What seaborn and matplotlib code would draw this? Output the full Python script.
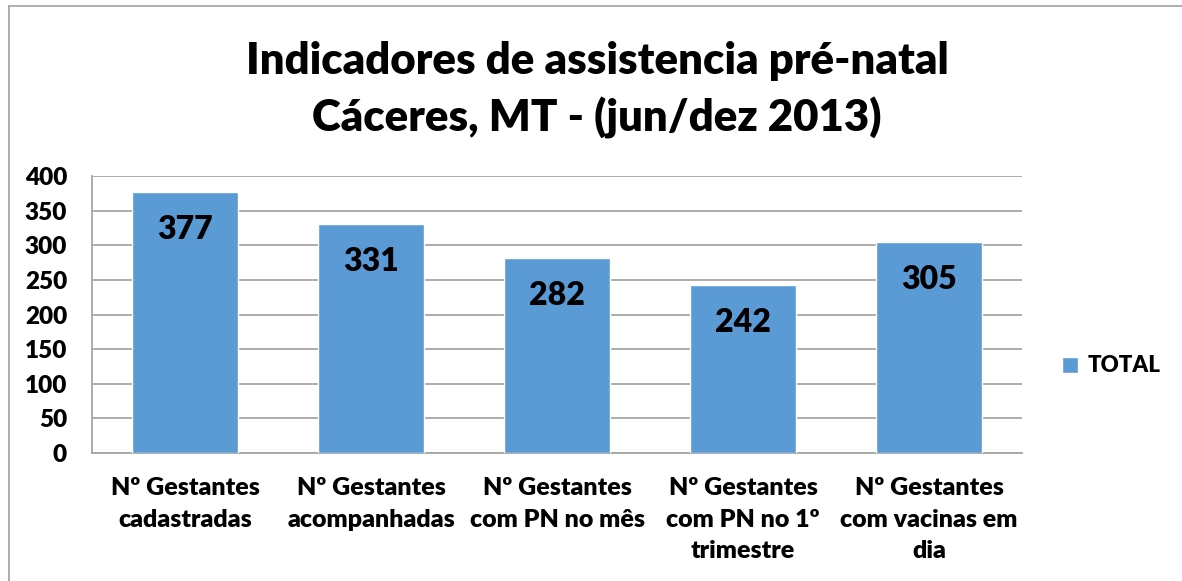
import matplotlib
matplotlib.use("Agg")
import matplotlib.pyplot as plt
import seaborn as sns
import pandas as pd
from matplotlib.lines import Line2D

categories = ["Nº Gestantes\ncadastradas", "Nº Gestantes\nacompanhadas", "Nº Gestantes\ncom PN no mês",
              "Nº Gestantes\ncom PN no 1º\ntrimestre", "Nº Gestantes\ncom vacinas em\ndia"]
values = [377, 331, 282, 242, 305]
series_name = "TOTAL"
title = "Indicadores de assistencia pré-natal\nCáceres, MT - (jun/dez 2013)"

sns.set_theme(style="white")
plt.rcParams['font.family'] = ['Lato', 'DejaVu Sans']
plt.rcParams['font.weight'] = 'heavy'
plt.rcParams['text.color'] = 'black'

df = pd.DataFrame({"cat": categories, "val": values})

fig = plt.figure(figsize=(11.82, 5.81), dpi=100)
ax = fig.add_axes([92/1182, 1-453/581, (1022-92)/1182, (453-176)/581])

sns.barplot(data=df, x="cat", y="val", color="#5B9BD5", saturation=1, width=0.57,
            label=series_name, ax=ax, zorder=3)

ax.set_ylim(0, 400)
ax.set_yticks(range(0, 401, 50))
ax.yaxis.grid(True, color="#A6A6A6", linewidth=1.3, zorder=0)
ax.set_axisbelow(True)
ax.set_xlabel("")
ax.set_ylabel("")
for s in ["top", "right"]:
    ax.spines[s].set_visible(False)
for s in ["left", "bottom"]:
    ax.spines[s].set_color("#A6A6A6")
    ax.spines[s].set_linewidth(1.3)
ax.tick_params(axis="y", length=0, pad=18, labelsize=17.5)
ax.tick_params(axis="x", length=0, pad=17, labelsize=18)
for lab in ax.get_xticklabels() + ax.get_yticklabels():
    lab.set_fontweight("heavy")
    lab.set_color("black")
for lab in ax.get_xticklabels():
    lab.set_linespacing(1.55)

for i, v in enumerate(values):
    ax.annotate(str(v), xy=(i, v), xytext=(0, -27), textcoords="offset points",
                ha="center", va="center", fontsize=23, fontweight="heavy", color="black")

fig.text(597/1182, 1-90/581, title, ha="center", va="center", fontsize=31.5,
         fontweight="heavy", linespacing=1.45, color="black")

leg = ax.legend(loc="center left", bbox_to_anchor=(1042/1182, 1-366/581),
                bbox_transform=fig.transFigure, frameon=False, fontsize=16,
                handlelength=0.7, handleheight=0.7, handletextpad=0.45)
for t in leg.get_texts():
    t.set_fontweight("heavy")
    t.set_color("black")

fig.add_artist(Line2D([9.5/1182, 9.5/1182], [0, 1-5.5/581], transform=fig.transFigure,
                      color="#A0A0A0", linewidth=1.2))
fig.add_artist(Line2D([9.5/1182, 1], [1-5.5/581, 1-5.5/581], transform=fig.transFigure,
                      color="#A0A0A0", linewidth=1.2))

fig.savefig("out.png", dpi=100)
